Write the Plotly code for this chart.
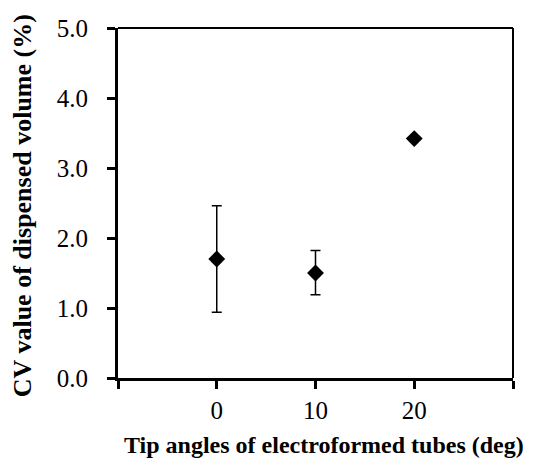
import plotly.graph_objects as go

angles = [0, 10, 20]
cv_values = [1.70, 1.50, 3.42]
err_plus = [0.76, 0.32, 0.0]
err_minus = [0.76, 0.31, 0.0]

x_tickvals = [-10, 0, 10, 20, 30]
x_ticktext = ["", "0", "10", "20", ""]
y_tickvals = [0, 1, 2, 3, 4, 5]
y_ticktext = ["0.0", "1.0", "2.0", "3.0", "4.0", "5.0"]
x_title = "Tip angles of electroformed tubes (deg)"
y_title = "CV value of dispensed volume (%)"

fig = go.Figure()
fig.add_trace(go.Scatter(
    x=angles, y=cv_values, mode="markers",
    marker=dict(symbol="diamond", size=13, color="black"),
    error_y=dict(type="data", symmetric=False, array=err_plus, arrayminus=err_minus,
                 color="black", thickness=1.5, width=5),
    showlegend=False,
))

font = "Liberation Serif, Times New Roman, serif"
fig.update_layout(
    width=525, height=453,
    margin=dict(l=110, r=20, t=20, b=83, autoexpand=False),
    paper_bgcolor="white", plot_bgcolor="white",
    font=dict(family=font, color="black", size=25),
    xaxis=dict(range=[-10, 30], tickvals=x_tickvals, ticktext=x_ticktext,
               showgrid=False, zeroline=False, showline=True, linecolor="black", linewidth=3,
               ticks="outside", ticklen=8, tickwidth=3, tickcolor="black",
               tickfont=dict(size=25, family=font), ticklabelstandoff=0),
    yaxis=dict(range=[0, 5], tickvals=y_tickvals, ticktext=y_ticktext,
               showgrid=False, zeroline=False, showline=True, linecolor="black", linewidth=3,
               ticks="outside", ticklen=8, tickwidth=3, tickcolor="black",
               tickfont=dict(size=25, family=font), ticklabelstandoff=14),
    annotations=[
        dict(text="<b>" + x_title + "</b>", xref="x domain", yref="y domain",
             x=0.5215, y=-0.191, xanchor="center", yanchor="middle", showarrow=False,
             font=dict(size=24, family=font)),
        dict(text="<b>" + y_title + "</b>", xref="x domain", yref="y domain",
             x=-0.243, y=0.491, xanchor="center", yanchor="middle", showarrow=False,
             textangle=-90, font=dict(size=26, family=font)),
    ],
    shapes=[
        dict(type="line", xref="x domain", yref="y domain", x0=0, x1=1, y0=1, y1=1,
             line=dict(color="black", width=2)),
        dict(type="line", xref="x domain", yref="y domain", x0=1, x1=1, y0=0, y1=1,
             line=dict(color="black", width=2)),
    ],
)

fig.write_html("out.html")
